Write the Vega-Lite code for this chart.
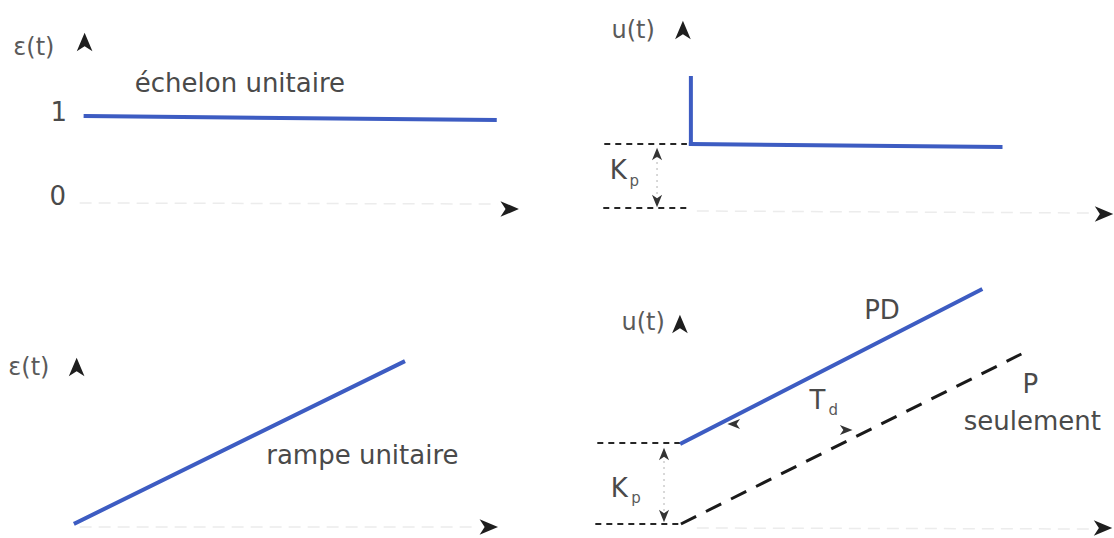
{
  "$schema": "https://vega.github.io/schema/vega-lite/v6.json",
  "width": 1114,
  "height": 538,
  "autosize": {"type": "fit", "contains": "padding"},
  "padding": 0,
  "background": "white",
  "config": {"view": {"stroke": null}},
  "datasets": {
    "segments": [
      {"role": "axis", "x": 80, "y": 203, "x2": 500, "y2": 204},
      {"role": "axis", "x": 700, "y": 211, "x2": 1098, "y2": 213},
      {"role": "axis", "x": 80, "y": 527, "x2": 480, "y2": 527},
      {"role": "axis", "x": 700, "y": 528, "x2": 1098, "y2": 529},
      {"role": "signal", "x": 86, "y": 116, "x2": 497, "y2": 120},
      {"role": "signal", "x": 694, "y": 78, "x2": 694, "y2": 144},
      {"role": "signal", "x": 694, "y": 144, "x2": 1005, "y2": 147},
      {"role": "signal", "x": 76, "y": 523, "x2": 405, "y2": 362},
      {"role": "signal", "x": 685, "y": 443, "x2": 985, "y2": 290},
      {"role": "p_only", "x": 684, "y": 524, "x2": 1026, "y2": 354},
      {"role": "guide", "x": 607, "y": 144, "x2": 690, "y2": 144},
      {"role": "guide", "x": 606, "y": 208, "x2": 692, "y2": 208},
      {"role": "guide", "x": 600, "y": 443, "x2": 683, "y2": 443},
      {"role": "guide", "x": 598, "y": 524, "x2": 682, "y2": 524}
    ],
    "dims": [
      {"x": 660, "y": 150, "x2": 660, "y2": 203},
      {"x": 667, "y": 449, "x2": 667, "y2": 519}
    ],
    "heads": [
      {"dir": "up", "x": 85, "y": 42},
      {"dir": "up", "x": 686, "y": 30},
      {"dir": "up", "x": 77, "y": 367},
      {"dir": "up", "x": 683, "y": 324},
      {"dir": "right", "x": 512, "y": 209},
      {"dir": "right", "x": 1109, "y": 214},
      {"dir": "right", "x": 491, "y": 527},
      {"dir": "right", "x": 1108, "y": 528},
      {"dir": "small_up", "x": 660, "y": 154},
      {"dir": "small_down", "x": 660, "y": 201},
      {"dir": "small_up", "x": 667, "y": 454},
      {"dir": "small_down", "x": 667, "y": 516},
      {"dir": "small_left", "x": 737, "y": 424},
      {"dir": "small_right", "x": 850, "y": 430}
    ],
    "labels": [
      {"kind": "symbol", "text": "ε(t)", "x": 34, "y": 48},
      {"kind": "main", "text": "1", "x": 59, "y": 113},
      {"kind": "main", "text": "0", "x": 58, "y": 197},
      {"kind": "main", "text": "échelon unitaire", "x": 241, "y": 84},
      {"kind": "symbol", "text": "u(t)", "x": 636, "y": 31},
      {"kind": "main", "text": "K", "x": 621, "y": 171},
      {"kind": "sub", "text": "p", "x": 637, "y": 181},
      {"kind": "symbol", "text": "ε(t)", "x": 29, "y": 368},
      {"kind": "main", "text": "rampe unitaire", "x": 364, "y": 456},
      {"kind": "symbol", "text": "u(t)", "x": 646, "y": 323},
      {"kind": "main", "text": "PD", "x": 886, "y": 311},
      {"kind": "main", "text": "T", "x": 821, "y": 401},
      {"kind": "sub", "text": "d", "x": 837, "y": 410},
      {"kind": "main", "text": "P", "x": 1035, "y": 385},
      {"kind": "main", "text": "seulement", "x": 1037, "y": 422},
      {"kind": "main", "text": "K", "x": 622, "y": 489},
      {"kind": "sub", "text": "p", "x": 639, "y": 498}
    ]
  },
  "encoding": {
    "x": {"field": "x", "type": "quantitative", "scale": {"domain": [0, 1114], "nice": false, "zero": false}, "axis": null},
    "y": {"field": "y", "type": "quantitative", "scale": {"domain": [0, 538], "nice": false, "zero": false, "reverse": true}, "axis": null}
  },
  "layer": [
    {
      "data": {"name": "segments"},
      "transform": [{"filter": "datum.role === 'axis'"}],
      "mark": {"type": "rule", "stroke": "#ececec", "strokeWidth": 1.5, "strokeDash": [12, 7]},
      "encoding": {"x2": {"field": "x2"}, "y2": {"field": "y2"}}
    },
    {
      "data": {"name": "dims"},
      "mark": {"type": "rule", "stroke": "#c4c4c4", "strokeWidth": 1.3, "strokeDash": [2, 4]},
      "encoding": {"x2": {"field": "x2"}, "y2": {"field": "y2"}}
    },
    {
      "data": {"name": "segments"},
      "transform": [{"filter": "datum.role === 'guide'"}],
      "mark": {"type": "rule", "stroke": "#262626", "strokeWidth": 1.8, "strokeDash": [6, 5]},
      "encoding": {"x2": {"field": "x2"}, "y2": {"field": "y2"}}
    },
    {
      "data": {"name": "segments"},
      "transform": [{"filter": "datum.role === 'p_only'"}],
      "mark": {"type": "rule", "stroke": "#1a1a1a", "strokeWidth": 3, "strokeDash": [17, 11]},
      "encoding": {"x2": {"field": "x2"}, "y2": {"field": "y2"}}
    },
    {
      "data": {"name": "segments"},
      "transform": [{"filter": "datum.role === 'signal'"}],
      "mark": {"type": "rule", "stroke": "#3d5cc2", "strokeWidth": 4, "strokeCap": "square"},
      "encoding": {"x2": {"field": "x2"}, "y2": {"field": "y2"}}
    },
    {
      "data": {"name": "heads"},
      "transform": [{"filter": "datum.dir === 'up'"}],
      "mark": {"type": "point", "shape": "M0,-1L0.85,1L0,0.45L-0.85,1Z", "filled": true, "color": "#1e1e1e", "size": 340, "opacity": 1}
    },
    {
      "data": {"name": "heads"},
      "transform": [{"filter": "datum.dir === 'right'"}],
      "mark": {"type": "point", "shape": "M0,-1L0.85,1L0,0.45L-0.85,1Z", "angle": 90, "filled": true, "color": "#1e1e1e", "size": 340, "opacity": 1}
    },
    {
      "data": {"name": "heads"},
      "transform": [{"filter": "datum.dir === 'small_up'"}],
      "mark": {"type": "point", "shape": "M0,-1L0.8,1L0,0.45L-0.8,1Z", "filled": true, "color": "#333333", "size": 160, "opacity": 1}
    },
    {
      "data": {"name": "heads"},
      "transform": [{"filter": "datum.dir === 'small_down'"}],
      "mark": {"type": "point", "shape": "M0,-1L0.8,1L0,0.45L-0.8,1Z", "angle": 180, "filled": true, "color": "#333333", "size": 160, "opacity": 1}
    },
    {
      "data": {"name": "heads"},
      "transform": [{"filter": "datum.dir === 'small_left'"}],
      "mark": {"type": "point", "shape": "M0,-1L0.8,1L0,0.45L-0.8,1Z", "angle": 270, "filled": true, "color": "#333333", "size": 160, "opacity": 1}
    },
    {
      "data": {"name": "heads"},
      "transform": [{"filter": "datum.dir === 'small_right'"}],
      "mark": {"type": "point", "shape": "M0,-1L0.8,1L0,0.45L-0.8,1Z", "angle": 90, "filled": true, "color": "#333333", "size": 160, "opacity": 1}
    },
    {
      "data": {"name": "labels"},
      "transform": [{"filter": "datum.kind === 'main'"}],
      "mark": {"type": "text", "font": "DejaVu Sans", "fontSize": 26, "color": "#4a4a4a", "align": "center", "baseline": "middle"},
      "encoding": {"text": {"field": "text"}}
    },
    {
      "data": {"name": "labels"},
      "transform": [{"filter": "datum.kind === 'symbol'"}],
      "mark": {"type": "text", "font": "DejaVu Sans", "fontSize": 24, "color": "#5a5a5a", "align": "center", "baseline": "middle"},
      "encoding": {"text": {"field": "text"}}
    },
    {
      "data": {"name": "labels"},
      "transform": [{"filter": "datum.kind === 'sub'"}],
      "mark": {"type": "text", "font": "DejaVu Sans", "fontSize": 15, "color": "#5a5a5a", "align": "center", "baseline": "middle"},
      "encoding": {"text": {"field": "text"}}
    }
  ]
}
